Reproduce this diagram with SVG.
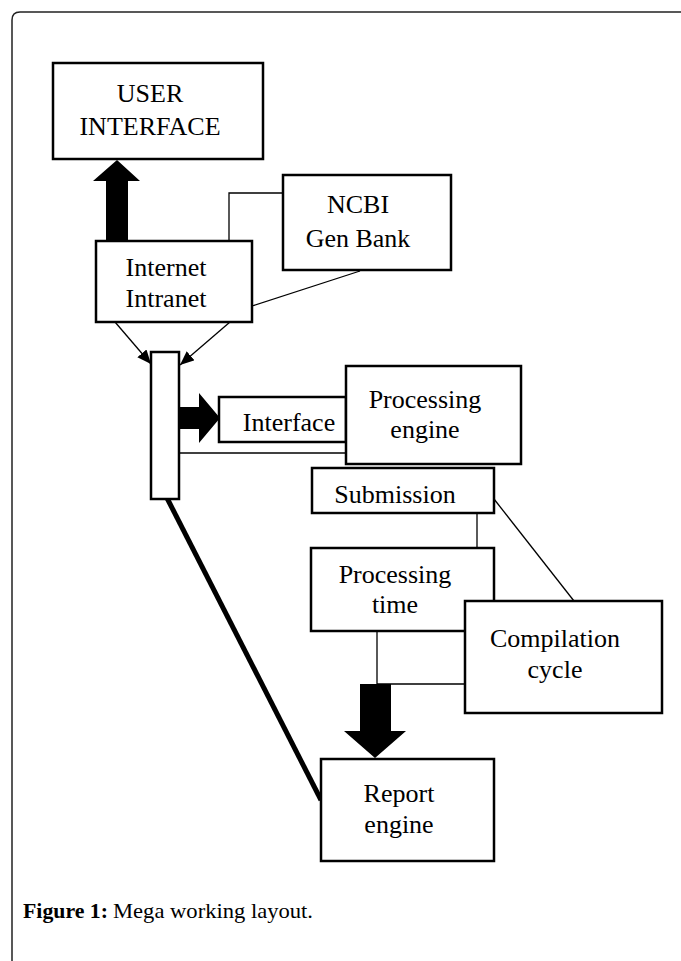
<svg xmlns="http://www.w3.org/2000/svg" width="681" height="961" viewBox="0 0 681 961">
<defs>
<style>
.box{fill:#fff;stroke:#000;stroke-width:2.5}
.thin{fill:none;stroke:#000;stroke-width:1.3}
.thick{fill:none;stroke:#000;stroke-width:5}
.blk{fill:#000;stroke:none}
.lbl{font-family:"Liberation Serif","Times New Roman",serif;font-size:26px;text-anchor:middle;fill:#000}
.cap{font-family:"Liberation Serif","Times New Roman",serif;font-size:21px;fill:#000}
</style>
<marker id="ah" markerUnits="userSpaceOnUse" markerWidth="16" markerHeight="14" refX="14" refY="6" orient="auto">
<path d="M0,0 L14,6 L0,12 Z" fill="#000"/>
</marker>
</defs>
<rect x="0" y="0" width="681" height="961" fill="#fff"/>
<path d="M12,975 V20 Q12,12 20,12 H690" fill="none" stroke="#222" stroke-width="1.5"/>

<g id="connectors">
<polyline class="thin" points="229,241 229,193 283,193"/>
<line class="thin" x1="360" y1="271" x2="252" y2="306"/>
<line class="thin" x1="115" y1="322" x2="151" y2="364" stroke-width="2" marker-end="url(#ah)"/>
<line class="thin" x1="230" y1="322" x2="180" y2="365" stroke-width="2" marker-end="url(#ah)"/>
<line class="thin" x1="179" y1="453" x2="346" y2="453"/>
<line class="thin" x1="477" y1="513" x2="477" y2="551"/>
<line class="thin" x1="494" y1="499" x2="574" y2="601"/>
<polyline class="thin" points="377,631 377,684 465,684"/>
<line class="thick" x1="167" y1="498" x2="321" y2="800"/>
<polygon class="blk" points="106,241 106,181 93,181 117,160 140,181 128,181 128,241"/>
<polygon class="blk" points="179,407 199,407 199,393 220,418 199,443 199,429 179,429"/>
<polygon class="blk" points="360,684 391,684 391,731 406,731 375,758 344,731 360,731"/>
</g>

<g id="user-interface">
<rect class="box" x="53" y="63" width="210" height="96"/>
<text class="lbl" x="150" y="102">USER</text>
<text class="lbl" x="150" y="135">INTERFACE</text>
</g>

<g id="ncbi">
<rect class="box" x="283" y="175" width="168" height="95"/>
<text class="lbl" x="358" y="213">NCBI</text>
<text class="lbl" x="358" y="247">Gen Bank</text>
</g>

<g id="internet">
<rect class="box" x="96" y="241" width="156" height="81"/>
<text class="lbl" x="166" y="276">Internet</text>
<text class="lbl" x="166" y="307">Intranet</text>
</g>

<g id="hub">
<rect class="box" x="151" y="352" width="28" height="147"/>
</g>

<g id="interface">
<rect class="box" x="219" y="397" width="127" height="45"/>
<text class="lbl" x="289" y="431">Interface</text>
</g>

<g id="processing-engine">
<rect class="box" x="346" y="366" width="175" height="98"/>
<text class="lbl" x="425" y="408">Processing</text>
<text class="lbl" x="425" y="438">engine</text>
</g>

<g id="submission">
<rect class="box" x="312" y="468" width="182" height="45"/>
<text class="lbl" x="395" y="503">Submission</text>
</g>

<g id="processing-time">
<rect class="box" x="311" y="548" width="183" height="83"/>
<text class="lbl" x="395" y="583">Processing</text>
<text class="lbl" x="395" y="613">time</text>
</g>

<g id="compilation-cycle">
<rect class="box" x="465" y="601" width="197" height="112"/>
<text class="lbl" x="555" y="647">Compilation</text>
<text class="lbl" x="555" y="678">cycle</text>
</g>

<g id="report-engine">
<rect class="box" x="321" y="759" width="173" height="102"/>
<text class="lbl" x="399" y="802">Report</text>
<text class="lbl" x="399" y="833">engine</text>
</g>

<text class="cap" x="23" y="918" font-weight="bold" textLength="85" lengthAdjust="spacingAndGlyphs">Figure 1:</text>
<text class="cap" x="113" y="918" textLength="200" lengthAdjust="spacingAndGlyphs">Mega working layout.</text>
</svg>
